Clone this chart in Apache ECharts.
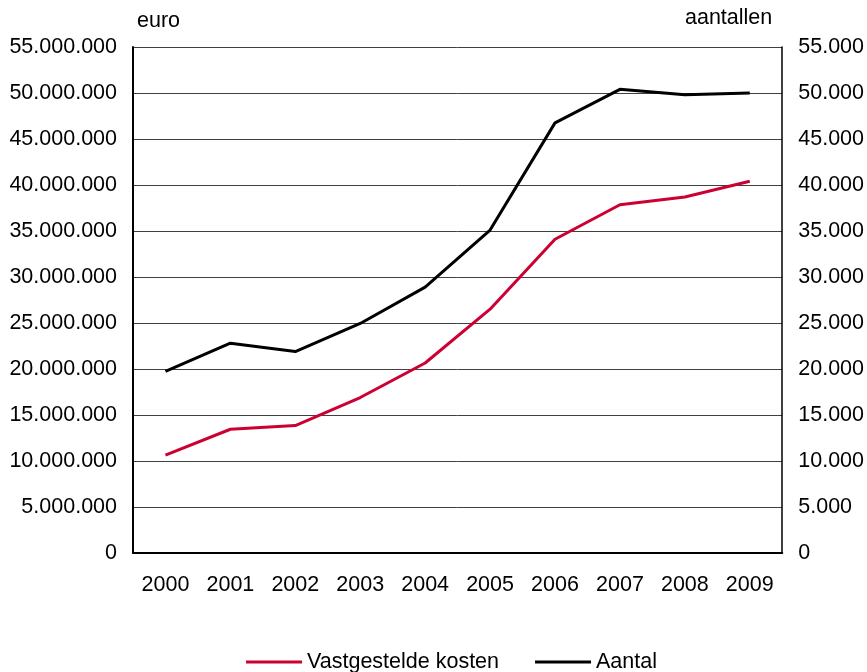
<!DOCTYPE html>
<html>
<head>
<meta charset="utf-8">
<script src="https://cdn.jsdelivr.net/npm/echarts@6/dist/echarts.min.js"></script>
<style>
  html, body { margin: 0; padding: 0; background: #fff; }
  #chart { width: 867px; height: 672px; }
</style>
</head>
<body>
<div id="chart"></div>
<script>
const years = ['2000', '2001', '2002', '2003', '2004', '2005', '2006', '2007', '2008', '2009'];
const kosten = [10650000, 13450000, 13850000, 16900000, 20650000, 26500000, 34100000, 37850000, 38700000, 40400000];
const aantal = [19750, 22800, 21900, 24950, 28900, 35100, 46750, 50400, 49800, 50000];

const fmt = (v) => String(v).replace(/\B(?=(\d{3})+(?!\d))/g, '.');

const colors = {
  red: '#cc0033',
  black: '#000000',
  text: '#000000',
  grid: '#404040'
};

const chart = echarts.init(document.getElementById('chart'));
const font = { fontFamily: 'Liberation Sans, Arial, sans-serif', fontSize: 21.5, color: colors.text };

chart.setOption({
  animation: false,
  textStyle: { fontFamily: font.fontFamily },
  grid: { left: 133, right: 84, top: 47, bottom: 119, containLabel: false },
  legend: {
    bottom: -6,
    left: 241,
    itemWidth: 56,
    itemHeight: 3,
    itemGap: 36,
    icon: 'rect',
    textStyle: { ...font },
    data: ['Vastgestelde kosten', 'Aantal']
  },
  xAxis: {
    type: 'category',
    data: years,
    boundaryGap: true,
    axisLine: { lineStyle: { color: colors.black, width: 2 } },
    axisTick: { show: false },
    axisLabel: { ...font, margin: 21 }
  },
  yAxis: [
    {
      type: 'value',
      min: 0,
      max: 55000000,
      interval: 5000000,
      name: 'euro',
      nameLocation: 'end',
      nameGap: 15,
      nameTextStyle: { ...font, align: 'left', padding: [0, 0, 0, 4] },
      axisLine: { show: true, lineStyle: { color: colors.black, width: 2 } },
      axisTick: { show: false },
      axisLabel: { ...font, margin: 16, formatter: fmt },
      splitLine: { lineStyle: { color: colors.grid, width: 1 } }
    },
    {
      type: 'value',
      min: 0,
      max: 55000,
      interval: 5000,
      name: 'aantallen',
      nameLocation: 'end',
      nameGap: 18,
      nameTextStyle: { ...font, align: 'right', padding: [0, 10, 0, 0] },
      axisLine: { show: true, lineStyle: { color: colors.black, width: 1.5 } },
      axisTick: { show: false },
      axisLabel: { ...font, margin: 16, formatter: fmt },
      splitLine: { show: false }
    }
  ],
  series: [
    {
      name: 'Vastgestelde kosten',
      type: 'line',
      yAxisIndex: 0,
      data: kosten,
      symbol: 'none',
      lineStyle: { color: colors.red, width: 3 },
      itemStyle: { color: colors.red }
    },
    {
      name: 'Aantal',
      type: 'line',
      yAxisIndex: 1,
      data: aantal,
      symbol: 'none',
      lineStyle: { color: colors.black, width: 3 },
      itemStyle: { color: colors.black }
    }
  ]
});
</script>
</body>
</html>
